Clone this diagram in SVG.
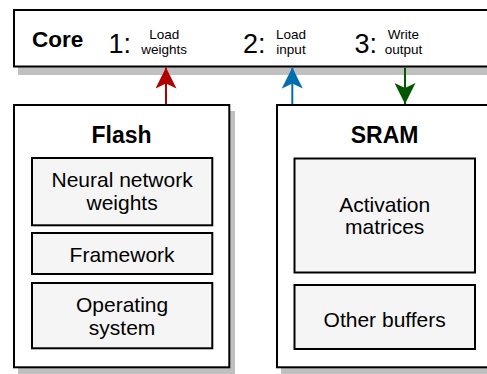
<svg xmlns="http://www.w3.org/2000/svg" width="487" height="374" viewBox="0 0 487 374">
<style>
.shadow{fill:#c0c0c0;stroke:none}
.outer{fill:#ffffff;stroke:#000000;stroke-width:2}
.inner{fill:#f5f5f5;stroke:#000000;stroke-width:2}
text{font-family:"Liberation Sans",Arial,sans-serif;fill:#000000}
.title{font-weight:bold;font-size:23px;text-anchor:middle}
.body{font-size:21px;text-anchor:middle}
.num{font-size:27px}
.small{font-size:13.5px;text-anchor:middle}
.conn{fill:none;stroke-width:2}
</style>
<defs>
<marker id="arrRed" markerUnits="userSpaceOnUse" viewBox="0 0 22 21" refX="21" refY="10.5" markerWidth="22" markerHeight="21" orient="auto">
<path d="M21,10.5 L0,0 L5,10.5 L0,21 Z" fill="#b20000"/>
</marker>
<marker id="arrBlue" markerUnits="userSpaceOnUse" viewBox="0 0 22 21" refX="21" refY="10.5" markerWidth="22" markerHeight="21" orient="auto">
<path d="M21,10.5 L0,0 L5,10.5 L0,21 Z" fill="#006eaf"/>
</marker>
<marker id="arrGreen" markerUnits="userSpaceOnUse" viewBox="0 0 22 21" refX="21" refY="10.5" markerWidth="22" markerHeight="21" orient="auto">
<path d="M21,10.5 L0,0 L5,10.5 L0,21 Z" fill="#005700"/>
</marker>
</defs>

<g id="core">
<rect class="shadow" x="18" y="18.5" width="480" height="56.5"/>
<rect class="outer" x="14" y="10" width="480" height="56.5"/>
<text x="32" y="46.7" style="font-weight:bold;font-size:22.5px">Core</text>
<text class="num" x="108.5" y="53.3">1:</text>
<text class="small" x="164.2" y="39.3">Load</text>
<text class="small" x="164.2" y="53.5">weights</text>
<text class="num" x="243" y="53.3">2:</text>
<text class="small" x="291" y="39.3">Load</text>
<text class="small" x="291" y="53.5">input</text>
<text class="num" x="354.5" y="53.3">3:</text>
<text class="small" x="403.5" y="39.3">Write</text>
<text class="small" x="403.5" y="53.5">output</text>
</g>

<g id="flash">
<rect class="shadow" x="18" y="111" width="217" height="264"/>
<rect class="outer" x="14" y="105" width="215.3" height="262.3"/>
<text class="title" x="121.6" y="142.7">Flash</text>
</g>
<g id="flash-weights">
<rect class="inner" x="32" y="158" width="180.3" height="67.3"/>
<text class="body" x="122.1" y="187.3">Neural network</text>
<text class="body" x="122.1" y="210">weights</text>
</g>
<g id="flash-framework">
<rect class="inner" x="32" y="233" width="180.3" height="41"/>
<text class="body" x="122.1" y="261.7">Framework</text>
</g>
<g id="flash-os">
<rect class="inner" x="32" y="283" width="180.3" height="65.3"/>
<text class="body" x="122.1" y="312.3">Operating</text>
<text class="body" x="122.1" y="335">system</text>
</g>

<g id="sram">
<rect class="shadow" x="281" y="111" width="217" height="264"/>
<rect class="outer" x="277" y="105" width="215" height="262.3"/>
<text class="title" x="384.6" y="142.7">SRAM</text>
</g>
<g id="sram-activation">
<rect class="inner" x="294.5" y="158.5" width="180.5" height="114"/>
<text class="body" x="384.7" y="211.7">Activation</text>
<text class="body" x="384.7" y="234.3">matrices</text>
</g>
<g id="sram-buffers">
<rect class="inner" x="294.5" y="285" width="180.5" height="64"/>
<text class="body" x="384.7" y="326.7">Other buffers</text>
</g>

<g id="connectors">
<path class="conn" d="M166,104 L166,67.5" stroke="#b20000" marker-end="url(#arrRed)"/>
<path class="conn" d="M292.3,104 L292.3,67.5" stroke="#006eaf" marker-end="url(#arrBlue)"/>
<path class="conn" d="M405,67.5 L405,104" stroke="#005700" marker-end="url(#arrGreen)"/>
</g>
</svg>
